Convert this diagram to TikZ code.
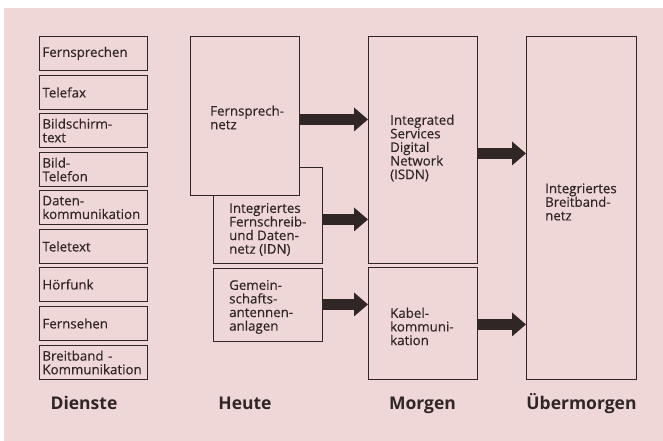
\documentclass[tikz,border=0pt]{standalone}
\usepackage{fontspec}
\setmainfont{Open Sans}
\newfontfamily\boxfont{Open Sans}[FakeBold=0.35]
\usetikzlibrary{arrows.meta,calc}
\definecolor{bgpink}{RGB}{240,215,215}
\definecolor{ink}{RGB}{48,38,38}
\begin{document}
\begin{tikzpicture}[x=1pt,y=-1pt,
  box/.style={draw=ink,line width=0.9pt,fill=bgpink,rectangle,anchor=north west,inner sep=0pt},
  txt/.style={text=ink,font=\boxfont\fontsize{13.3}{13.6}\selectfont,align=left,inner sep=0pt},
  small/.style={box,txt,minimum width=108pt,minimum height=34pt,inner xsep=3pt,text width=102pt},
  btxt/.style={txt,anchor=west},
  title/.style={text=ink,font=\fontsize{17.5}{19}\selectfont\bfseries,anchor=base,inner sep=0pt},
  fat/.style={draw=ink,line width=11pt,-{Triangle[length=14pt,width=23pt]}}]
\useasboundingbox (0,0) rectangle (663,441);
\fill[white] (0,0) rectangle (663,441);
\fill[bgpink] (4,8) rectangle (663,441);
% Dienste
\node[small] (d1) at (39,36) {Fernsprechen};
\node[small] (d2) at (39,75) {Telefax};
\node[small] (d3) at (39,113) {Bildschirm-\\text};
\node[small] (d4) at (39,152) {Bild-\\Telefon};
\node[small] (d5) at (39,190) {Daten-\\kommunikation};
\node[small] (d6) at (39,229) {Teletext};
\node[small] (d7) at (39,267) {Hörfunk};
\node[small] (d8) at (39,306) {Fernsehen};
\node[small] (d9) at (39,345) {Breitband -\\Kommunikation};
% Heute
\node[box,minimum width=109pt,minimum height=96pt] (idn) at (213,167) {};
\node[box,minimum width=109pt,minimum height=159pt] (fn) at (190,36) {};
\node[box,minimum width=109pt,minimum height=73pt] (ga) at (213,268) {};
% Morgen
\node[box,minimum width=109pt,minimum height=227pt] (isdn) at (368,36) {};
\node[box,minimum width=109pt,minimum height=112pt] (kab) at (368,267) {};
% Uebermorgen
\node[box,minimum width=110pt,minimum height=343pt] (ibn) at (526,36) {};
% box texts
\node[btxt] (fn-t) at ($(fn.west)+(20,1.5)$) {Fernsprech-\\netz};
\node[btxt] (idn-t) at ($(idn.west)+(16,14)$) {Integriertes\\Fernschreib-\\und Daten-\\netz (IDN)};
\node[btxt] (ga-t) at ($(ga.west)+(16,2)$) {Gemein-\\schafts-\\antennen-\\anlagen};
\node[btxt] (isdn-t) at ($(isdn.west)+(22,-2)$) {Integrated\\Services\\Digital\\Network\\(ISDN)};
\node[btxt] (kab-t) at ($(kab.west)+(22,3)$) {Kabel-\\kommuni-\\kation};
\node[btxt] (ibn-t) at ($(ibn.west)+(19,-6)$) {Integriertes\\Breitband-\\netz};
% arrows
\coordinate (a1) at ($(fn.east)+(0,3.5)$);
\coordinate (a2) at ($(idn.east)+(0,4)$);
\coordinate (a3) at ($(ga.east)+(0,-0.5)$);
\coordinate (a4) at ($(isdn.east)+(0,3.5)$);
\coordinate (a5) at ($(kab.east)+(0,1)$);
\draw[fat] (a1) -- (a1 -| isdn.west);
\draw[fat] (a2) -- (a2 -| isdn.west);
\draw[fat] (a3) -- (a3 -| kab.west);
\draw[fat] (a4) -- (a4 -| ibn.west);
\draw[fat] (a5) -- (a5 -| ibn.west);
% titles
\node[title] (t1) at (84,409.5) {Dienste};
\node[title] (t2) at (245,409.5) {Heute};
\node[title] (t3) at (422.5,409.5) {Morgen};
\node[title] (t4) at (581.5,409.5) {Übermorgen};
\end{tikzpicture}
\end{document}
